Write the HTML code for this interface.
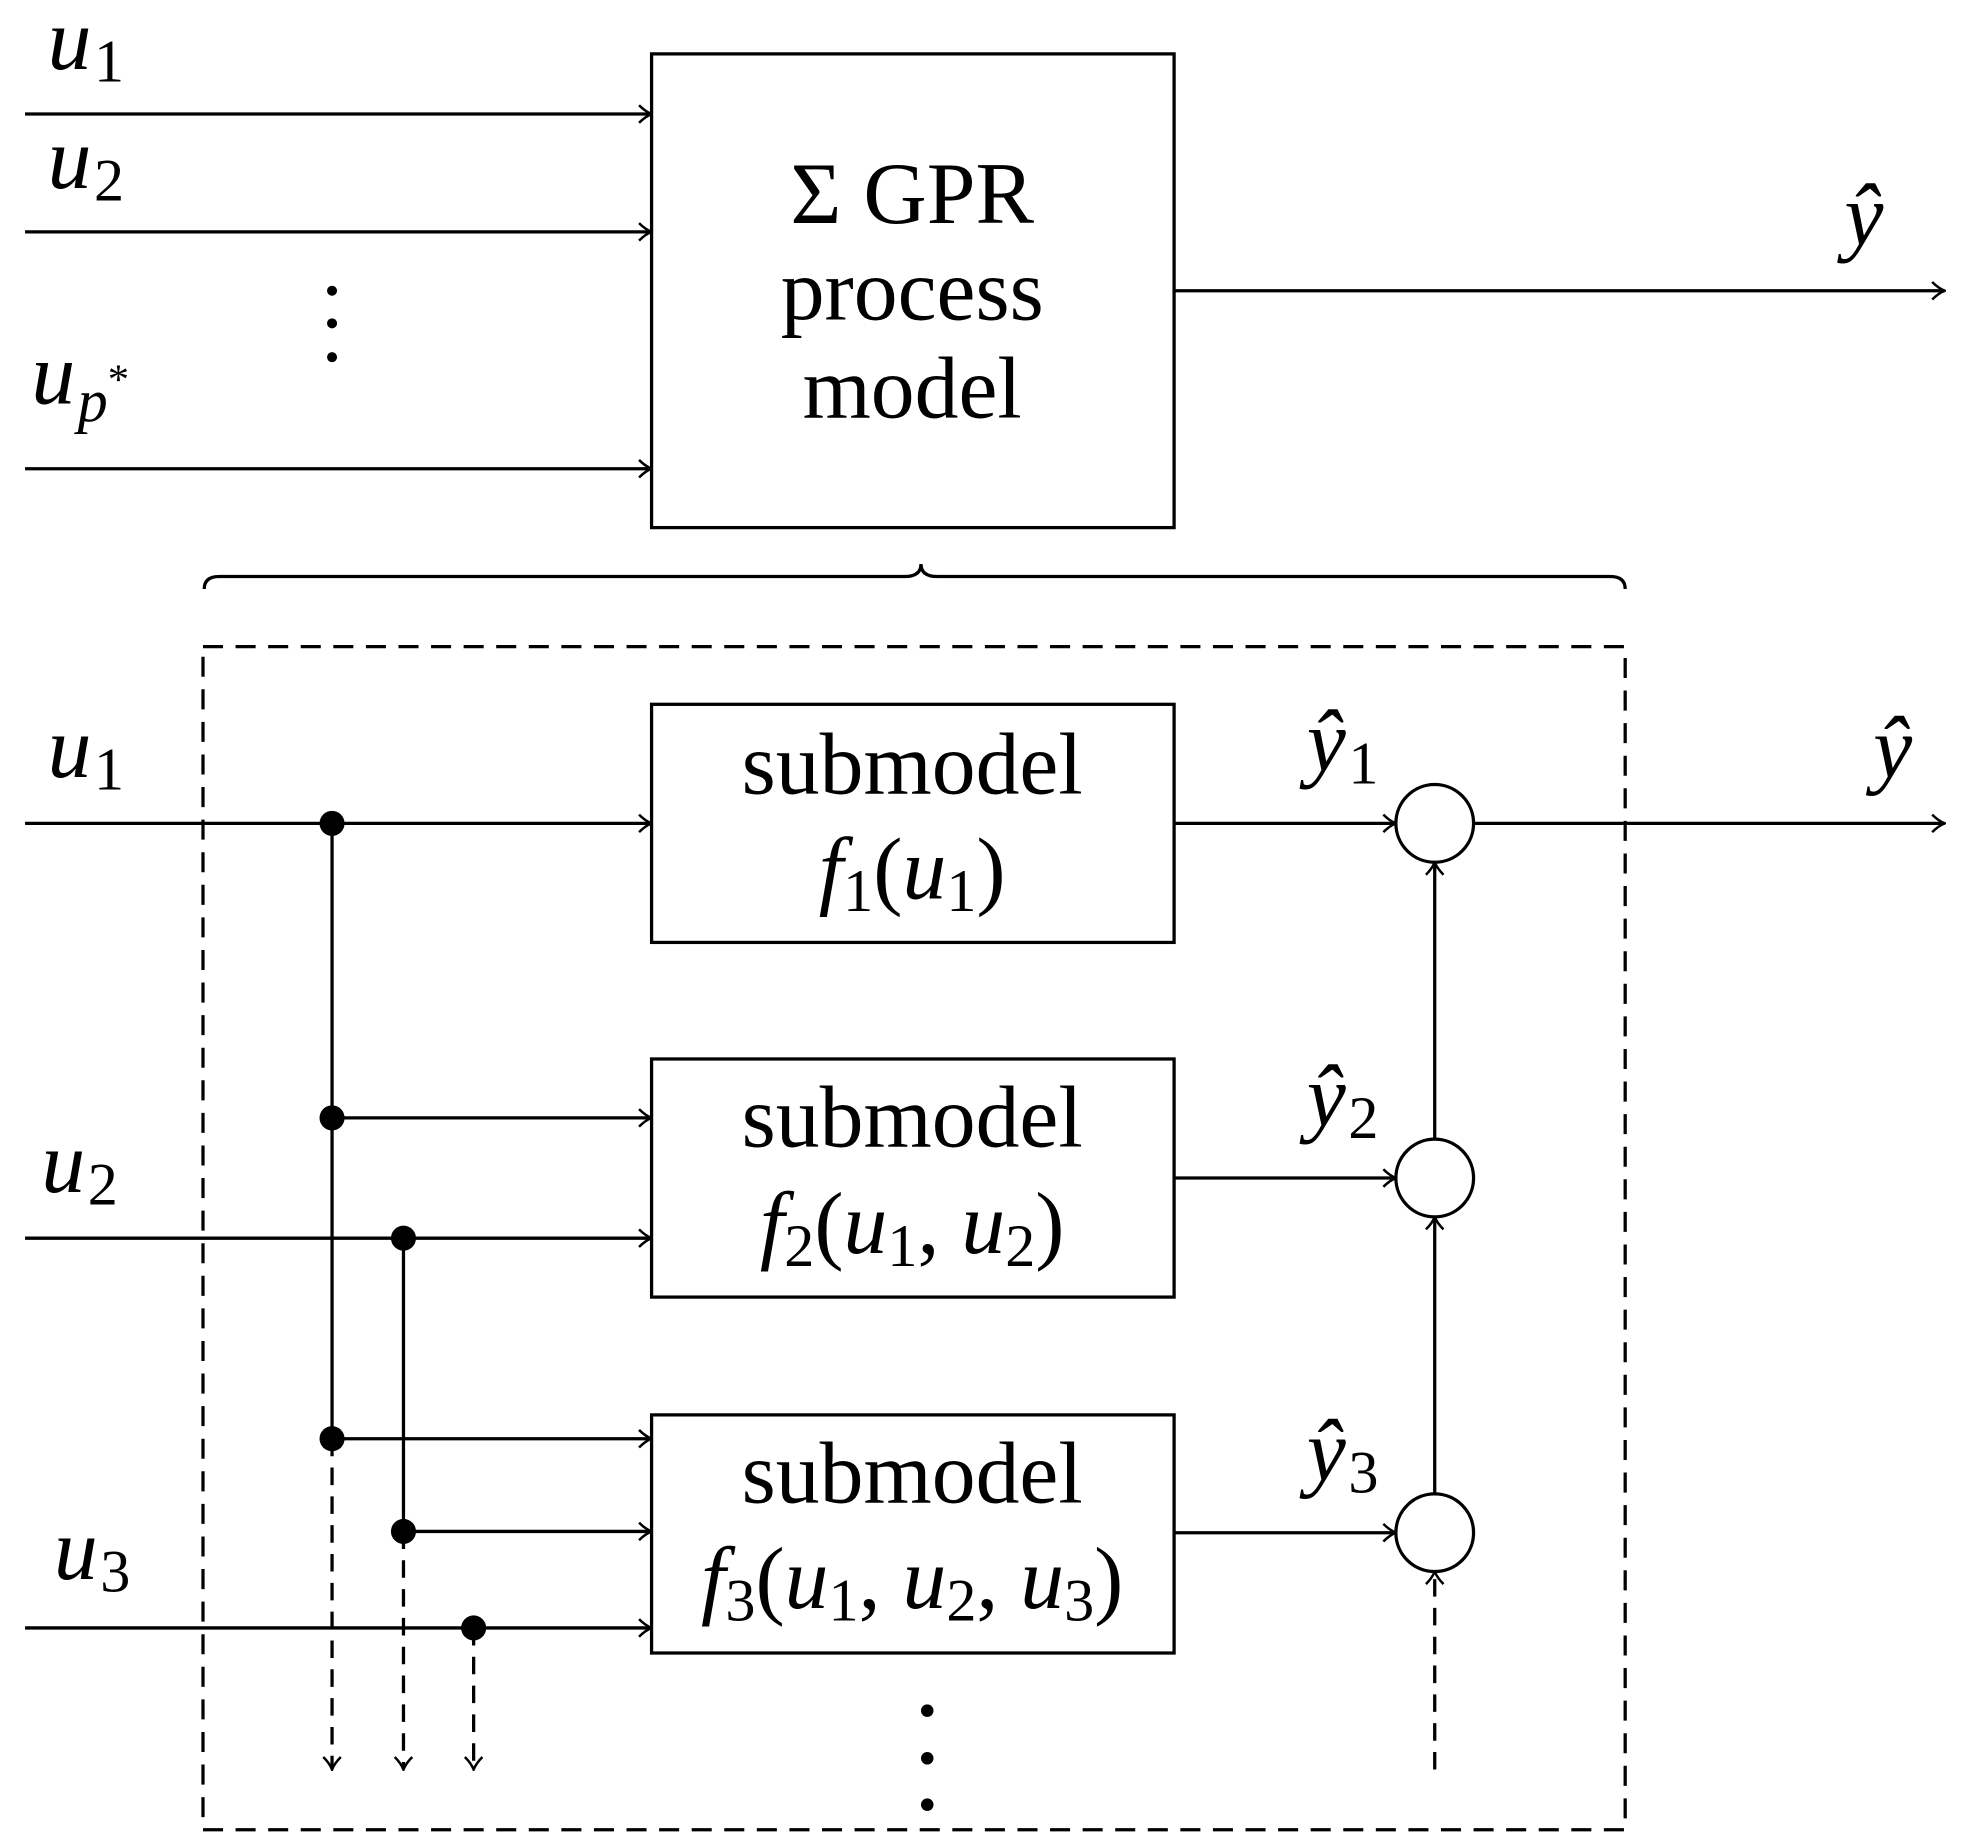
<!DOCTYPE html>
<html><head><style>html,body{margin:0;padding:0;background:#fff}svg{display:block}text{font-family:"Liberation Serif",serif;fill:#000}.i{font-style:italic}.s{font-style:normal;font-size:48px}</style></head>
<body>
<svg width="1961" height="1846" viewBox="0 0 1565 1473" preserveAspectRatio="none" xmlns="http://www.w3.org/2000/svg">
<defs><marker id="a" markerWidth="12" markerHeight="16" refX="11" refY="8" orient="auto" markerUnits="userSpaceOnUse"><path d="M1 1 Q6 6 11 8 Q6 10 1 15" fill="none" stroke="#000" stroke-width="2"/></marker></defs>
<g stroke="#000" stroke-width="2.6" fill="none">
<rect x="520" y="43" width="417" height="378"/>
<line x1="20" y1="91" x2="520" y2="91" marker-end="url(#a)"/>
<line x1="20" y1="185" x2="520" y2="185" marker-end="url(#a)"/>
<line x1="20" y1="374" x2="520" y2="374" marker-end="url(#a)"/>
<line x1="937" y1="232" x2="1552" y2="232" marker-end="url(#a)"/>
<path d="M163 470 Q163 460 175 460 L722 460 Q735 460 735 450 Q735 460 748 460 L1285 460 Q1297 460 1297 470"/>
<rect x="162" y="516" width="1135" height="944" stroke-dasharray="16,10"/>
<rect x="520" y="562" width="417" height="190"/>
<rect x="520" y="845" width="417" height="190"/>
<rect x="520" y="1129" width="417" height="190"/>
<line x1="20" y1="657" x2="520" y2="657" marker-end="url(#a)"/>
<line x1="20" y1="988" x2="520" y2="988" marker-end="url(#a)"/>
<line x1="20" y1="1299" x2="520" y2="1299" marker-end="url(#a)"/>
<line x1="265" y1="892" x2="520" y2="892" marker-end="url(#a)"/>
<line x1="265" y1="1148" x2="520" y2="1148" marker-end="url(#a)"/>
<line x1="322" y1="1222" x2="520" y2="1222" marker-end="url(#a)"/>
<line x1="265" y1="657" x2="265" y2="1148"/>
<line x1="322" y1="988" x2="322" y2="1222"/>
<line x1="265" y1="1148" x2="265" y2="1412" stroke-dasharray="14,9" marker-end="url(#a)"/>
<line x1="322" y1="1222" x2="322" y2="1412" stroke-dasharray="14,9" marker-end="url(#a)"/>
<line x1="378" y1="1299" x2="378" y2="1412" stroke-dasharray="14,9" marker-end="url(#a)"/>
<circle cx="1145" cy="657" r="31"/>
<circle cx="1145" cy="940" r="31"/>
<circle cx="1145" cy="1223" r="31"/>
<line x1="937" y1="657" x2="1114" y2="657" marker-end="url(#a)"/>
<line x1="937" y1="940" x2="1114" y2="940" marker-end="url(#a)"/>
<line x1="937" y1="1223" x2="1114" y2="1223" marker-end="url(#a)"/>
<line x1="1176" y1="657" x2="1552" y2="657" marker-end="url(#a)"/>
<line x1="1145" y1="909" x2="1145" y2="688" marker-end="url(#a)"/>
<line x1="1145" y1="1192" x2="1145" y2="971" marker-end="url(#a)"/>
<line x1="1145" y1="1412" x2="1145" y2="1254" stroke-dasharray="14,9" marker-end="url(#a)"/>
</g>
<g fill="#000">
<circle cx="265" cy="657" r="10"/><circle cx="265" cy="892" r="10"/><circle cx="265" cy="1148" r="10"/>
<circle cx="322" cy="988" r="10"/><circle cx="322" cy="1222" r="10"/><circle cx="378" cy="1299" r="10"/>
<circle cx="265" cy="232" r="4"/><circle cx="265" cy="258" r="4"/><circle cx="265" cy="285" r="4"/>
<circle cx="740" cy="1365" r="5"/><circle cx="740" cy="1403" r="5"/><circle cx="740" cy="1440" r="5"/>
</g>
<g font-size="70">
<text x="38" y="55" class="i">u<tspan class="s" dx="2" dy="10">1</tspan></text>
<text x="38" y="150" class="i">u<tspan class="s" dx="2" dy="10">2</tspan></text>
<text x="25" y="322" class="i">u<tspan font-size="48" dx="2" dy="14">p</tspan><tspan font-style="normal" font-size="34" dy="-22">*</tspan></text>
<text x="1472" y="195" class="i">ŷ</text>
<text x="728" y="178" text-anchor="middle">Σ GPR</text>
<text x="728" y="255" text-anchor="middle">process</text>
<text x="728" y="333" text-anchor="middle">model</text>
<text x="38" y="620" class="i">u<tspan class="s" dx="2" dy="10">1</tspan></text>
<text x="33" y="951" class="i">u<tspan class="s" dx="2" dy="10">2</tspan></text>
<text x="43" y="1260" class="i">u<tspan class="s" dx="2" dy="10">3</tspan></text>
<text x="1495" y="620" class="i">ŷ</text>
<text x="1043" y="615" class="i">ŷ<tspan class="s" dx="2" dy="10">1</tspan></text>
<text x="1043" y="898" class="i">ŷ<tspan class="s" dx="2" dy="10">2</tspan></text>
<text x="1043" y="1181" class="i">ŷ<tspan class="s" dx="2" dy="10">3</tspan></text>
<text x="728" y="633" text-anchor="middle">submodel</text>
<text x="728" y="717" text-anchor="middle"><tspan class="i">f</tspan><tspan class="s" dy="10">1</tspan><tspan dy="-10">(</tspan><tspan class="i">u</tspan><tspan class="s" dy="10">1</tspan><tspan dy="-10">)</tspan></text>
<text x="728" y="915" text-anchor="middle">submodel</text>
<text x="728" y="1000" text-anchor="middle"><tspan class="i">f</tspan><tspan class="s" dy="10">2</tspan><tspan dy="-10">(</tspan><tspan class="i">u</tspan><tspan class="s" dy="10">1</tspan><tspan dy="-10">, </tspan><tspan class="i">u</tspan><tspan class="s" dy="10">2</tspan><tspan dy="-10">)</tspan></text>
<text x="728" y="1199" text-anchor="middle">submodel</text>
<text x="728" y="1283" text-anchor="middle"><tspan class="i">f</tspan><tspan class="s" dy="10">3</tspan><tspan dy="-10">(</tspan><tspan class="i">u</tspan><tspan class="s" dy="10">1</tspan><tspan dy="-10">, </tspan><tspan class="i">u</tspan><tspan class="s" dy="10">2</tspan><tspan dy="-10">, </tspan><tspan class="i">u</tspan><tspan class="s" dy="10">3</tspan><tspan dy="-10">)</tspan></text>
</g>
</svg>
</body></html>
